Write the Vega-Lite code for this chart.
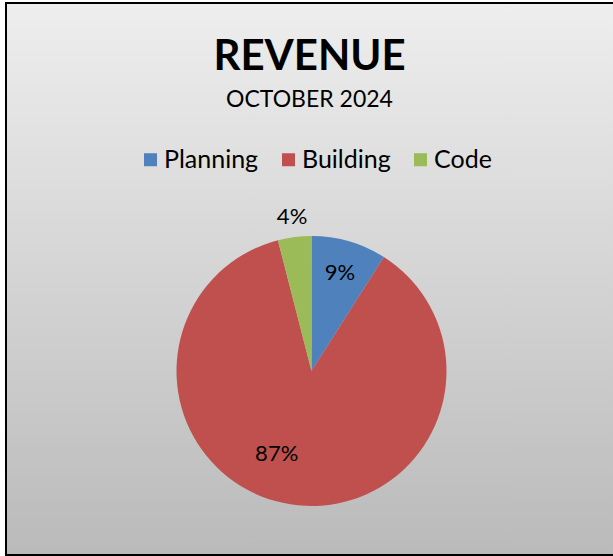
{
  "$schema": "https://vega.github.io/schema/vega-lite/v6.json",
  "width": 609,
  "height": 552,
  "autosize": {"type": "none"},
  "padding": {"left": 6, "top": 3, "right": -2, "bottom": 1},
  "background": "white",
  "title": {
    "text": "REVENUE",
    "subtitle": "OCTOBER 2024",
    "anchor": "middle",
    "frame": "group",
    "offset": -110,
    "font": "Lato",
    "fontSize": 42,
    "fontWeight": "bold",
    "color": "black",
    "subtitleFont": "Lato",
    "subtitleFontSize": 23,
    "subtitleColor": "black",
    "subtitlePadding": 10,
    "dx": -1
  },
  "data": {
    "values": [
      {"category": "Planning", "share": 0.09, "seq": 1},
      {"category": "Building", "share": 0.87, "seq": 2},
      {"category": "Code", "share": 0.04, "seq": 3}
    ]
  },
  "encoding": {
    "theta": {"field": "share", "type": "quantitative", "stack": true},
    "order": {"field": "seq", "type": "quantitative"},
    "color": {
      "field": "category",
      "type": "nominal",
      "sort": ["Planning", "Building", "Code"],
      "scale": {"domain": ["Planning", "Building", "Code"], "range": ["#4F81BD", "#C0504D", "#9BBB59"]},
      "legend": {
        "title": null,
        "orient": "none",
        "direction": "horizontal",
        "legendX": 132,
        "legendY": 144,
        "symbolType": "square",
        "symbolSize": 169,
        "symbolStrokeWidth": 0,
        "symbolOpacity": 1,
        "labelFont": "Lato",
        "labelFontSize": 25,
        "labelColor": "black",
        "labelOffset": 1,
        "columnPadding": 17,
        "padding": 0
      }
    }
  },
  "layer": [
    {
      "mark": {"type": "arc", "outerRadius": 135, "xOffset": 1, "yOffset": 92}
    },
    {
      "mark": {"type": "text", "radius": 102, "xOffset": 1, "yOffset": 92, "font": "Lato", "fontSize": 22, "color": "black"},
      "encoding": {
        "text": {"condition": {"test": "datum.category === 'Planning'", "field": "share", "type": "quantitative", "format": ".0%"}, "value": ""},
        "color": {"value": "black"}
      }
    },
    {
      "mark": {"type": "text", "radius": 155, "xOffset": 1, "yOffset": 92, "font": "Lato", "fontSize": 22, "color": "black"},
      "encoding": {
        "text": {"condition": {"test": "datum.category === 'Code'", "field": "share", "type": "quantitative", "format": ".0%"}, "value": ""},
        "color": {"value": "black"}
      }
    },
    {
      "mark": {"type": "text", "radius": 90, "thetaOffset": 0.24, "xOffset": 1, "yOffset": 92, "font": "Lato", "fontSize": 22, "color": "black"},
      "encoding": {
        "text": {"condition": {"test": "datum.category === 'Building'", "field": "share", "type": "quantitative", "format": ".0%"}, "value": ""},
        "color": {"value": "black"}
      }
    }
  ],
  "config": {
    "style": {
      "view": {
        "fill": {
          "gradient": "linear",
          "x1": 0, "y1": 0, "x2": 0, "y2": 1,
          "stops": [
            {"offset": 0, "color": "#EEEEEE"},
            {"offset": 1, "color": "#BABABA"}
          ]
        },
        "stroke": "black",
        "strokeWidth": 2
      }
    }
  }
}
